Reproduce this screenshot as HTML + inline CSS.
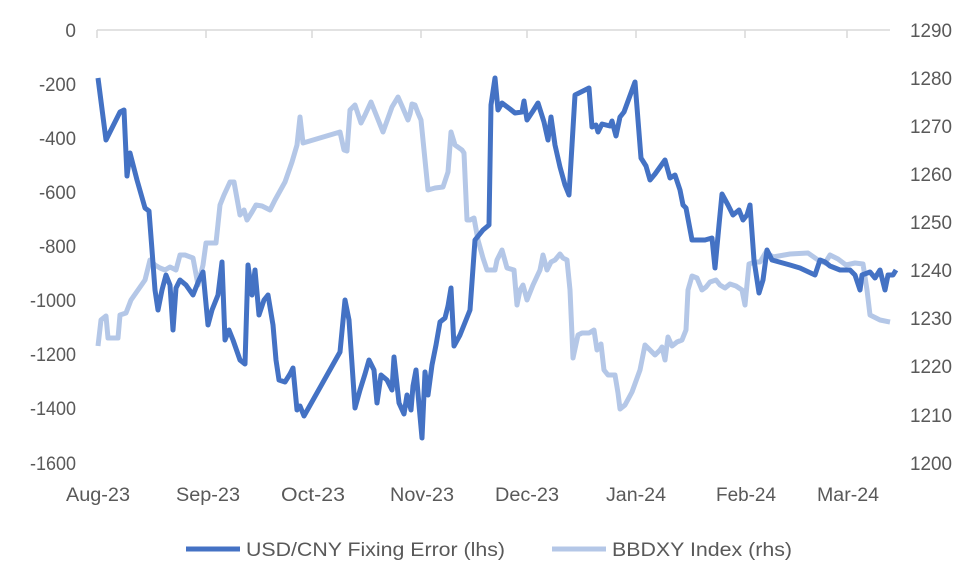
<!DOCTYPE html>
<html><head><style>body{margin:0;background:#fff}svg{display:block}text{font-family:"Liberation Sans",sans-serif;fill:#595959;font-size:19px}</style></head><body>
<svg width="980" height="588" viewBox="0 0 980 588">
<line x1="97" y1="30" x2="890" y2="30" stroke="#d9d9d9" stroke-width="1.5"/>
<g stroke="#d9d9d9" stroke-width="1.5"><line x1="97" y1="30" x2="97" y2="38"/><line x1="206" y1="30" x2="206" y2="38"/><line x1="312" y1="30" x2="312" y2="38"/><line x1="421" y1="30" x2="421" y2="38"/><line x1="527" y1="30" x2="527" y2="38"/><line x1="636" y1="30" x2="636" y2="38"/><line x1="745" y1="30" x2="745" y2="38"/><line x1="847" y1="30" x2="847" y2="38"/></g>
<g text-anchor="end"><text x="76" y="37">0</text><text x="76" y="91" textLength="37" lengthAdjust="spacingAndGlyphs">-200</text><text x="76" y="145" textLength="37" lengthAdjust="spacingAndGlyphs">-400</text><text x="76" y="199" textLength="37" lengthAdjust="spacingAndGlyphs">-600</text><text x="76" y="253" textLength="37" lengthAdjust="spacingAndGlyphs">-800</text><text x="76" y="307" textLength="46" lengthAdjust="spacingAndGlyphs">-1000</text><text x="76" y="361" textLength="46" lengthAdjust="spacingAndGlyphs">-1200</text><text x="76" y="415" textLength="46" lengthAdjust="spacingAndGlyphs">-1400</text><text x="76" y="470" textLength="46" lengthAdjust="spacingAndGlyphs">-1600</text></g>
<g text-anchor="start"><text x="910" y="37" textLength="42" lengthAdjust="spacingAndGlyphs">1290</text><text x="910" y="85" textLength="42" lengthAdjust="spacingAndGlyphs">1280</text><text x="910" y="133" textLength="42" lengthAdjust="spacingAndGlyphs">1270</text><text x="910" y="181" textLength="42" lengthAdjust="spacingAndGlyphs">1260</text><text x="910" y="229" textLength="42" lengthAdjust="spacingAndGlyphs">1250</text><text x="910" y="277" textLength="42" lengthAdjust="spacingAndGlyphs">1240</text><text x="910" y="325" textLength="42" lengthAdjust="spacingAndGlyphs">1230</text><text x="910" y="373" textLength="42" lengthAdjust="spacingAndGlyphs">1220</text><text x="910" y="422" textLength="42" lengthAdjust="spacingAndGlyphs">1210</text><text x="910" y="470" textLength="42" lengthAdjust="spacingAndGlyphs">1200</text></g>
<g text-anchor="middle"><text x="98" y="501" textLength="64" lengthAdjust="spacingAndGlyphs">Aug-23</text><text x="208" y="501" textLength="64" lengthAdjust="spacingAndGlyphs">Sep-23</text><text x="313" y="501" textLength="64" lengthAdjust="spacingAndGlyphs">Oct-23</text><text x="422" y="501" textLength="64" lengthAdjust="spacingAndGlyphs">Nov-23</text><text x="527" y="501" textLength="64" lengthAdjust="spacingAndGlyphs">Dec-23</text><text x="636" y="501" textLength="60" lengthAdjust="spacingAndGlyphs">Jan-24</text><text x="746" y="501" textLength="60" lengthAdjust="spacingAndGlyphs">Feb-24</text><text x="848" y="501" textLength="62" lengthAdjust="spacingAndGlyphs">Mar-24</text></g>
<polyline fill="none" stroke="#b4c7e7" stroke-width="5" stroke-linejoin="round" points="98,346 101,320 106,316 108,338 118,338 120,315 126,313 131,300 138,290 145,280 150,260 155,265 160,268 165,270 170,267 176,270 180,255 185,255 193,258 198,285 203,265 206,243 216,243 220,205 224,195 230,182 234,182 240,215 244,210 247,220 252,212 256,205 262,206 270,210 275,200 285,182 292,162 297,145 300,117 303,143 340,132 344,150 347,151 350,110 355,105 361,123 365,115 371,102 375,112 383,132 392,107 398,97 402,106 408,120 410,114 412,104 415,105 418,113 421,120 428,190 435,188 443,187 448,172 451,132 455,145 462,150 464,153 467,220 470,220 474,218 478,240 483,258 487,270 495,270 497,260 502,250 507,268 514,270 517,305 520,290 523,285 527,300 533,285 540,270 543,255 547,270 551,262 555,260 560,254 563,258 567,260 570,290 573,358 578,335 582,333 589,333 594,330 597,350 601,344 604,370 608,375 615,375 618,393 620,409 625,405 632,392 640,370 645,345 650,350 655,355 660,350 662,347 665,360 668,337 672,346 677,342 682,340 686,330 688,290 692,276 697,278 702,290 706,287 710,282 716,280 720,285 725,288 730,284 736,286 742,290 745,305 749,264 755,262 760,262 766,252 773,257 790,254 808,253 818,260 825,263 830,255 838,259 846,265 855,263 863,264 867,290 870,315 880,320 890,322"/>
<polyline fill="none" stroke="#4472c4" stroke-width="5" stroke-linejoin="round" points="98,78 106,140 120,112 124,110 127,176 130,153 137,180 145,208 149,211 152,250 155,290 158,310 162,290 166,275 170,285 173,330 176,288 180,280 186,285 193,295 199,280 203,272 208,325 212,310 218,295 222,262 225,340 229,330 233,340 240,360 245,364 248,265 252,295 255,270 259,315 264,300 268,295 273,325 276,360 279,380 285,382 290,374 293,368 297,410 300,406 304,416 340,352 345,300 349,320 355,408 360,390 365,374 369,360 374,370 377,403 381,375 387,380 392,390 394,357 399,403 404,414 407,395 411,410 413,386 416,370 419,405 422,438 425,372 428,395 432,365 436,345 440,322 445,318 448,306 451,288 454,346 460,335 470,310 475,240 483,230 489,225 491,105 495,78 498,110 502,103 510,109 515,113 522,112 524,101 527,120 533,111 538,103 544,122 548,140 551,117 555,145 560,167 565,185 569,195 575,95 585,90 589,88 592,127 596,125 598,132 602,124 610,126 612,121 616,136 620,117 624,112 635,82 641,158 646,166 650,180 655,174 665,160 670,178 675,175 680,190 683,205 686,208 692,240 705,240 712,238 715,268 719,225 722,194 728,205 733,215 739,210 743,220 747,215 750,205 754,260 759,293 763,280 767,250 772,260 790,265 800,268 815,275 820,260 825,262 830,266 840,270 850,270 855,275 860,290 862,275 870,272 875,278 880,270 885,290 888,275 893,275 896,270"/>
<line x1="186" y1="549" x2="240" y2="549" stroke="#4472c4" stroke-width="5"/>
<text x="246" y="556" textLength="259" lengthAdjust="spacingAndGlyphs">USD/CNY Fixing Error (lhs)</text>
<line x1="552" y1="549" x2="606" y2="549" stroke="#b4c7e7" stroke-width="5"/>
<text x="612" y="556" textLength="180" lengthAdjust="spacingAndGlyphs">BBDXY Index (rhs)</text>
</svg>
</body></html>
